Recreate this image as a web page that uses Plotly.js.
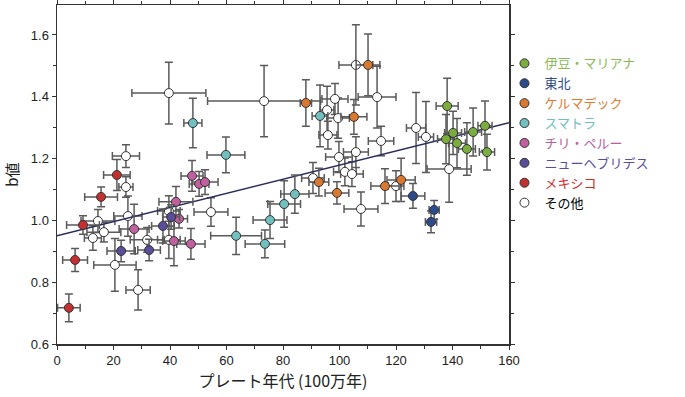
<!DOCTYPE html>
<html>
<head>
<meta charset="utf-8">
<script src="https://cdn.plot.ly/plotly-3.0.1.min.js"></script>
<style>html,body{margin:0;padding:0;background:#fff;}#chart{width:685px;height:397px;}</style>
</head>
<body>
<div id="chart"></div>
<script>
// Series names (legend order)
const seriesNames = ["伊豆・マリアナ","東北","ケルマデック","スマトラ","チリ・ペルー","ニューヘブリデス","メキシコ","その他"];

// 伊豆・マリアナ
const izuX  = [138.1,140.2,137.7,141.6,145.1,147.3,151.5,152.2];
const izuY  = [1.370,1.283,1.263,1.250,1.231,1.286,1.306,1.221];
const izuEX = [3.9,3.0,3.0,3.0,3.0,3.0,2.5,2.7];
const izuEY = [0.09,0.07,0.08,0.08,0.085,0.078,0.08,0.058];
// 東北
const tohX  = [126.0,133.5,132.4];
const tohY  = [1.079,1.034,0.995];
const tohEX = [4.2,1.8,2.0];
const tohEY = [0.04,0.03,0.035];
// ケルマデック
const kerX  = [110.1,88.1,105.1,92.7,99.1,116.1,121.8];
const kerY  = [1.503,1.380,1.335,1.124,1.089,1.111,1.131];
const kerEX = [4.2,2.0,4.6,3.5,4.2,5.0,5.0];
const kerEY = [0.10,0.075,0.056,0.045,0.036,0.056,0.07];
// スマトラ
const sumX  = [48.1,59.8,93.1,84.2,80.4,75.4,63.4,73.6];
const sumY  = [1.315,1.212,1.338,1.085,1.053,1.001,0.950,0.924];
const sumEX = [3.2,6.7,2.8,5.0,5.8,6.0,9.0,7.0];
const sumEY = [0.08,0.058,0.10,0.062,0.075,0.06,0.06,0.045];
// チリ・ペルー
const chiX  = [47.8,50.3,52.4,42.1,43.2,27.3,41.4,47.4];
const chiY  = [1.144,1.118,1.124,1.060,1.005,0.972,0.933,0.924];
const chiEX = [3.9,3.5,4.6,6.0,3.0,5.3,4.0,5.0];
const chiEY = [0.05,0.04,0.04,0.05,0.03,0.08,0.08,0.05];
// ニューヘブリデス
const nhX  = [37.5,40.4,22.7,32.6];
const nhY  = [0.982,1.011,0.901,0.904];
const nhEX = [4.0,3.0,5.0,4.0];
const nhEY = [0.055,0.04,0.035,0.035];
// メキシコ
const mexX  = [21.2,15.6,9.2,6.4,4.2];
const mexY  = [1.147,1.076,0.985,0.872,0.717];
const mexEX = [4.7,5.8,5.8,4.4,4.0];
const mexEY = [0.05,0.032,0.03,0.037,0.045];
// その他
const othX  = [39.6,73.3,105.8,113.3,98.4,95.6,99.5,95.9,114.7,105.8,99.8,101.9,104.4,90.6,107.6,120.0,127.1,130.6,138.8,54.5,39.6,24.4,24.4,25.1,14.5,16.6,12.7,31.9,39.6,20.5,28.7];
const othY  = [1.412,1.386,1.503,1.399,1.393,1.357,1.331,1.276,1.257,1.221,1.205,1.157,1.150,1.137,1.037,1.111,1.299,1.270,1.166,1.027,1.030,1.208,1.108,1.014,0.998,0.962,0.943,0.937,0.937,0.856,0.775];
const othEX = [13.1,20,6,6.7,4.6,2.4,4,3.2,4.5,4.4,4.7,4,4,4,6,2.8,3.4,2.7,7.8,6,4,4.8,2.5,5,6,6,3,6,4,7.5,4.3];
const othEY = [0.10,0.115,0.13,0.10,0.05,0.077,0.065,0.045,0.048,0.05,0.05,0.045,0.04,0.05,0.055,0.05,0.115,0.115,0.107,0.046,0.05,0.037,0.033,0.065,0.037,0.032,0.04,0.04,0.06,0.085,0.065];

// Regression line endpoints
const fitX = [0,160];
const fitY = [0.950,1.316];

// Axis ticks
const xTicks = [0,20,40,60,80,100,120,140,160];
const yTicks = [0.6,0.8,1.0,1.2,1.4,1.6];

const fills = ["#7aad3e","#2d4a8a","#d9782f","#72bfbf","#c0609e","#5a4d9a","#c43030","#ffffff"];
const txtCols = ["#8bb955","#2d4a8a","#e07a30","#6cc0c0","#b8609a","#5a4c9c","#cc2b2b","#000000"];

const groups = [
  [izuX,izuY,izuEX,izuEY],[tohX,tohY,tohEX,tohEY],[kerX,kerY,kerEX,kerEY],
  [sumX,sumY,sumEX,sumEY],[chiX,chiY,chiEX,chiEY],[nhX,nhY,nhEX,nhEY],
  [mexX,mexY,mexEX,mexEY],[othX,othY,othEX,othEY]
];

const errCol = "#5a5a5a";
function mk(i){
  const g = groups[i];
  return {
    type:"scatter", mode:"markers",
    x:g[0], y:g[1],
    name:'<span style="color:'+txtCols[i]+'">'+seriesNames[i]+'</span>',
    legendrank: i+1,
    marker:{size:9, color:fills[i], line:{color:"#333333", width:1}},
    error_x:{type:"data", array:g[2], visible:true, color:errCol, thickness:1.5, width:4},
    error_y:{type:"data", array:g[3], visible:true, color:errCol, thickness:1.5, width:4},
    cliponaxis:false
  };
}
const data = [];
data.push(mk(7));
data.push({type:"scatter", mode:"lines", x:fitX, y:fitY, showlegend:false, hoverinfo:"skip",
  line:{color:"#2a2d5a", width:1.6}});
for (let i=0;i<7;i++) data.push(mk(i));

const font = "Liberation Sans, Arial, Noto Sans CJK JP, sans-serif";
const layout = {
  width:685, height:397,
  margin:{l:57, r:176, t:5, b:53},
  paper_bgcolor:"#ffffff", plot_bgcolor:"#ffffff",
  font:{family:font, size:13, color:"#222"},
  showlegend:true,
  legend:{x:0.99, xanchor:"left", y:0.872, yanchor:"top", font:{family:"Noto Sans CJK JP, sans-serif", size:13},
    bgcolor:"rgba(0,0,0,0)", itemwidth:30, tracegroupgap:0},
  xaxis:{range:[0,160], tickvals:xTicks, ticks:"outside", ticklen:4, tickwidth:1, tickcolor:"#333",
    minor:{dtick:10, tick0:0, ticks:"outside", ticklen:3, tickcolor:"#333"},
    showline:true, linecolor:"#333", linewidth:1.5, mirror:"allticks",
    showgrid:false, zeroline:false, tickfont:{size:13, family:font, color:"#222"},
    title:{text:"プレート年代 (100万年)", font:{family:"Noto Sans CJK JP, sans-serif", size:16, color:"#222"}, standoff:4}},
  yaxis:{range:[0.6,1.697], tickvals:yTicks, tickformat:".1f", ticks:"outside", ticklen:4, tickwidth:1, tickcolor:"#333",
    minor:{dtick:0.1, tick0:0.6, ticks:"outside", ticklen:3, tickcolor:"#333"},
    showline:true, linecolor:"#333", linewidth:1.5, mirror:"allticks",
    showgrid:false, zeroline:false, tickfont:{size:13, family:font, color:"#222"},
    title:{text:"b値", font:{family:"Noto Sans CJK JP, sans-serif", size:15, color:"#222"}, standoff:8}}
};
Plotly.newPlot("chart", data, layout, {displayModeBar:false, staticPlot:true});
</script>
</body>
</html>
